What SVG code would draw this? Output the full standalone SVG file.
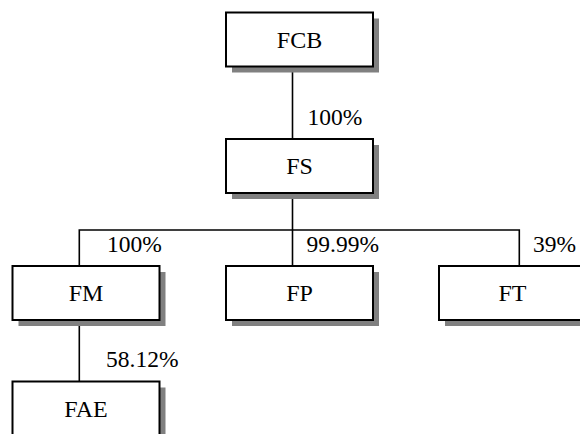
<svg xmlns="http://www.w3.org/2000/svg" width="580" height="434" viewBox="0 0 580 434">
<defs>
<style>
.shadow{fill:#808080;stroke:none}
.box{fill:#fff;stroke:#000;stroke-width:2}
.name{font-family:"Liberation Serif","Times New Roman",serif;font-size:24px;fill:#000;text-anchor:middle}
.pct{font-family:"Liberation Serif","Times New Roman",serif;font-size:23.5px;fill:#000}
.conn{stroke:#000;stroke-width:1.6;fill:none}
</style>
</defs>
<rect width="580" height="434" fill="#fff"/>
<g id="connectors">
<line class="conn" x1="292.5" y1="66.5" x2="292.5" y2="139"/>
<line class="conn" x1="292.5" y1="193" x2="292.5" y2="266"/>
<polyline class="conn" points="79.3,266 79.3,230 519.3,230 519.3,266"/>
<line class="conn" x1="79.3" y1="320" x2="79.3" y2="381.5"/>
<text class="pct" x="307.5" y="125">100%</text>
<text class="pct" x="107" y="252">100%</text>
<text class="pct" x="306.5" y="252">99.99%</text>
<text class="pct" x="533" y="252">39%</text>
<text class="pct" x="106" y="367">58.12%</text>
</g>
<g id="FCB">
<rect class="shadow" x="232" y="18.5" width="147" height="54"/>
<rect class="box" x="226" y="12.5" width="147" height="54"/>
<text class="name" x="299.5" y="47.5">FCB</text>
</g>
<g id="FS">
<rect class="shadow" x="232" y="145" width="147" height="54"/>
<rect class="box" x="226" y="139" width="147" height="54"/>
<text class="name" x="299.5" y="174">FS</text>
</g>
<g id="FM">
<rect class="shadow" x="18.5" y="272" width="147" height="54"/>
<rect class="box" x="12.5" y="266" width="147" height="54"/>
<text class="name" x="86" y="301">FM</text>
</g>
<g id="FP">
<rect class="shadow" x="232" y="272" width="147" height="54"/>
<rect class="box" x="226" y="266" width="147" height="54"/>
<text class="name" x="299.5" y="301">FP</text>
</g>
<g id="FT">
<rect class="shadow" x="445" y="272" width="147" height="54"/>
<rect class="box" x="439" y="266" width="147" height="54"/>
<text class="name" x="512.5" y="301">FT</text>
</g>
<g id="FAE">
<rect class="shadow" x="18.5" y="387.5" width="147" height="54"/>
<rect class="box" x="12.5" y="381.5" width="147" height="54"/>
<text class="name" x="86" y="417">FAE</text>
</g>
</svg>
